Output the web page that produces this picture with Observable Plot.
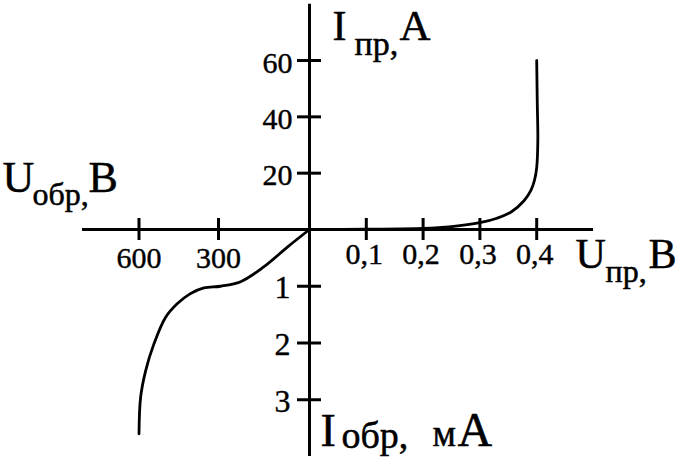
<!DOCTYPE html>
<html>
<head>
<meta charset="utf-8">
<script src="https://cdn.jsdelivr.net/npm/d3@7"></script>
<script src="https://cdn.jsdelivr.net/npm/@observablehq/plot@0.6"></script>
<style>
  html, body { margin: 0; padding: 0; background: #fff; }
  #chart svg { display: block; }
</style>
</head>
<body>
<div id="chart"></div>
<script>
// Forward branch: U (V) and I (A)
const forwardU = [0, 0.1, 0.2, 0.25, 0.3, 0.33, 0.355, 0.378, 0.39, 0.396, 0.4, 0.402, 0.401, 0.4];
const forwardI = [0, 0.1, 0.35, 1.0, 2.4, 4.0, 6.2, 10.3, 14, 17.4, 22, 31.6, 45, 60];

// Reverse branch: U (V, magnitude) and I (mA, magnitude)
const reverseU = [0, 73, 151, 227, 293, 355, 406, 456, 500, 544, 575, 594, 600];
const reverseI = [0, 0.31, 0.66, 0.92, 1.0, 1.03, 1.13, 1.31, 1.55, 2.02, 2.49, 2.96, 3.6];

// Tick values
const xTicksRev = [600, 300];
const xTicksFwd = [0.1, 0.2, 0.3, 0.4];
const yTicksFwd = [20, 40, 60];
const yTicksRev = [1, 2, 3];

// Axis titles: main letter, subscript, unit
const titleTop = ["I", "пр,", "A"];
const titleBottom = ["I", "обр,", "м", "А"];
const titleLeft = ["U", "обр,", "B"];
const titleRight = ["U", "пр,", "B"];

const fwd = forwardU.map((u, k) => ({u, i: forwardI[k]}));
const rev = reverseU.map((u, k) => ({u: -u, i: -reverseI[k]}));

// Axis extents (piecewise scales: reverse and forward quadrants use different units)
const X_MIN = -813, X_MAX = 0.5;
const Y_MIN = -4, Y_MAX = 80;

const FONT = "Liberation Serif, Times New Roman, serif";
const TICK = 30;

function part(t, x, y, size) {
  return Plot.text([t], {
    frameAnchor: "top-left", dx: x, dy: y, text: d => d,
    textAnchor: "start", lineAnchor: "bottom",
    fontSize: size, fill: "black", stroke: "black", strokeWidth: 0.5
  });
}

const tickText = {lineAnchor: "bottom", fontSize: TICK, fill: "black", stroke: "black", strokeWidth: 0.4};

const chart = Plot.plot({
  width: 680,
  height: 468,
  margin: 0,
  style: {fontFamily: FONT, background: "white", color: "black"},
  x: {type: "linear", domain: [X_MIN, -600, -300, 0, X_MAX], range: [82, 138.5, 218, 309, 593], axis: null},
  y: {type: "linear", domain: [Y_MIN, 0, Y_MAX], range: [456, 229, 3.7], axis: null},
  marks: [
    // axes
    Plot.ruleY([0], {x1: X_MIN, x2: X_MAX, strokeWidth: 3}),
    Plot.ruleX([0], {y1: Y_MIN, y2: Y_MAX, strokeWidth: 3}),
    // tick marks
    Plot.ruleX([...xTicksRev.map(v => -v), ...xTicksFwd], {x: d => d, y1: 0, y2: 0, insetTop: -11, insetBottom: -11, strokeWidth: 3}),
    Plot.ruleY([...yTicksFwd, ...yTicksRev.map(v => -v)], {y: d => d, x1: 0, x2: 0, insetLeft: -12, insetRight: -12, strokeWidth: 3}),
    // characteristic
    Plot.line(fwd, {x: "u", y: "i", curve: "catmull-rom", strokeWidth: 2.8}),
    Plot.line(rev, {x: "u", y: "i", curve: "catmull-rom", strokeWidth: 2.8}),
    // tick labels
    Plot.text(xTicksRev, {x: d => -d, y: 0, text: d => String(d), dy: 38, ...tickText}),
    Plot.text(xTicksFwd, {x: d => d, y: 0, text: d => String(d).replace(".", ","), dx: -2, dy: 34, ...tickText}),
    Plot.text(yTicksFwd, {x: 0, y: d => d, text: d => String(d), textAnchor: "end", dx: -17, dy: 12, ...tickText}),
    Plot.text(yTicksRev, {x: 0, y: d => -d, text: d => String(d), textAnchor: "end", dx: -19, dy: 12, ...tickText, fontSize: TICK + 2}),
    // axis titles
    part(titleTop[0], 332, 39, 42),
    part(titleTop[1], 354, 54, 34),
    part(titleTop[2], 399, 39, 43),
    part(titleLeft[0], 2, 191, 44),
    part(titleLeft[1], 32, 204, 32),
    part(titleLeft[2], 88, 191, 44),
    part(titleRight[0], 575, 267, 42),
    part(titleRight[1], 605, 281, 32),
    part(titleRight[2], 648, 267, 42),
    part(titleBottom[0], 320, 445, 46),
    part(titleBottom[1], 341, 447, 38),
    part(titleBottom[2], 432, 445, 37),
    part(titleBottom[3], 457, 445, 48)
  ]
});

document.getElementById("chart").append(chart);
</script>
</body>
</html>
